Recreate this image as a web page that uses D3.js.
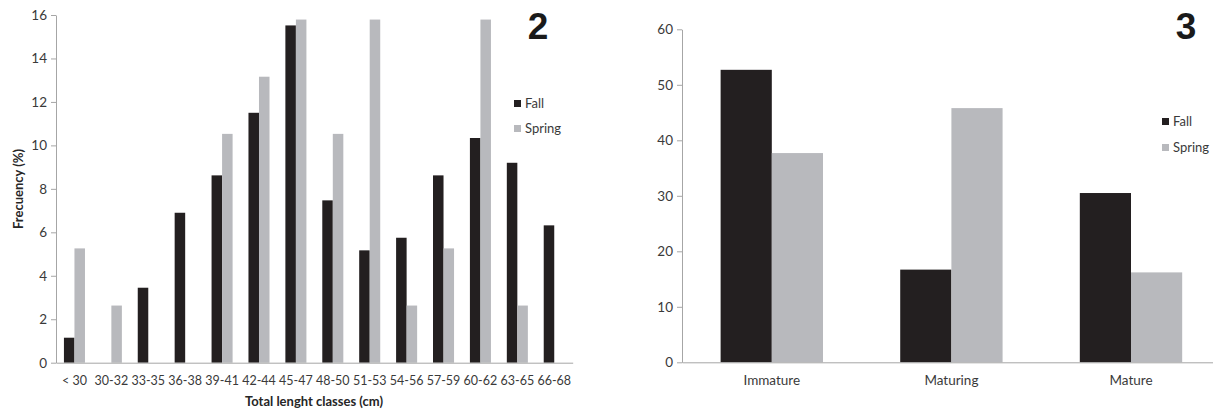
<!DOCTYPE html>
<html>
<head>
<meta charset="utf-8">
<script src="https://cdn.jsdelivr.net/npm/d3@7/dist/d3.min.js"></script>
<style>
  html, body { margin: 0; padding: 0; background: #fff; }
  svg { display: block; }
  text { font-family: Lato, "Open Sans", sans-serif; }
</style>
</head>
<body>
<svg id="chart" width="1213" height="412"></svg>
<script>
// ---- Data: Figure 2 (length classes) ----
const lengthClasses = ["< 30", "30-32", "33-35", "36-38", "39-41", "42-44", "45-47", "48-50", "51-53", "54-56", "57-59", "60-62", "63-65", "66-68"];
const lengthFall   = [1.15, 0, 3.45, 6.9, 8.62, 11.5, 15.52, 7.47, 5.17, 5.75, 8.62, 10.34, 9.2, 6.32];
const lengthSpring = [5.26, 2.63, 0, 0, 10.53, 13.16, 15.79, 10.53, 15.79, 2.63, 5.26, 15.79, 2.63, 0];
const lengthTicks  = [0, 2, 4, 6, 8, 10, 12, 14, 16];

// ---- Data: Figure 3 (maturity stages) ----
const stages       = ["Immature", "Maturing", "Mature"];
const stageFall    = [52.7, 16.7, 30.5];
const stageSpring  = [37.7, 45.8, 16.2];
const stageTicks   = [0, 10, 20, 30, 40, 50, 60];

const seriesNames = ["Fall", "Spring"];
const seriesColors = ["#231f20", "#b8b9bd"];

const svg = d3.select("#chart");

function drawPanel(cfg) {
  const g = svg.append("g");
  const x = d3.scaleBand().domain(cfg.categories).range([cfg.x0, cfg.x1]).paddingInner(0.43).paddingOuter(0.215);
  const xs = d3.scaleBand().domain(seriesNames).range([0, x.bandwidth()]);
  const y = d3.scaleLinear().domain([0, cfg.yMax]).range([cfg.y0, cfg.y1]);

  const series = [cfg.fall, cfg.spring];
  seriesNames.forEach((s, si) => {
    g.append("g").selectAll("rect")
      .data(cfg.categories.map((c, i) => ({ c, v: series[si][i] })))
      .join("rect")
      .attr("x", d => x(d.c) + xs(s))
      .attr("width", xs.bandwidth())
      .attr("y", d => y(d.v))
      .attr("height", d => y(0) - y(d.v))
      .attr("fill", seriesColors[si]);
  });

  // y axis
  const yAxis = g.append("g").attr("transform", `translate(${cfg.x0},0)`)
    .call(d3.axisLeft(y).tickValues(cfg.ticks).tickSize(5).tickPadding(4).tickSizeOuter(0));
  yAxis.select(".domain").attr("stroke", "#a6a6a6");
  yAxis.selectAll(".tick line").attr("stroke", "#a6a6a6");
  yAxis.selectAll(".tick text").attr("fill", "#3a3a3a").style("font-size", "13.5px").style("font-family", "Lato");

  // x axis
  const xAxis = g.append("g").attr("transform", `translate(0,${cfg.y0})`)
    .call(d3.axisBottom(x).tickSize(0).tickPadding(cfg.xPad).tickSizeOuter(0));
  xAxis.select(".domain").attr("stroke", "#a6a6a6");
  xAxis.selectAll(".tick text").attr("fill", "#3a3a3a").style("font-size", cfg.xFont).style("font-family", "Lato");

  // legend
  const lg = g.append("g");
  seriesNames.forEach((s, i) => {
    lg.append("rect").attr("x", cfg.legX).attr("y", cfg.legY + i * cfg.legGap).attr("width", 7).attr("height", 7).attr("fill", seriesColors[i]);
    lg.append("text").attr("x", cfg.legX + 11).attr("y", cfg.legY + i * cfg.legGap + 8)
      .attr("fill", "#3a3a3a").style("font-size", "13px").text(s);
  });

  // panel number
  g.append("text").attr("x", cfg.numX).attr("y", 39).attr("text-anchor", "middle")
    .style("font-family", "Liberation Sans, Arial, sans-serif").style("font-weight", "bold").style("font-size", "37px")
    .attr("fill", "#1a1a1a").text(cfg.num);

  return { x, y, g };
}

const p2 = drawPanel({
  categories: lengthClasses, fall: lengthFall, spring: lengthSpring, ticks: lengthTicks,
  yMax: 16, x0: 56, x1: 572.7, y0: 362.7, y1: 15,
  xPad: 13, xFont: "12.5px",
  legX: 514, legY: 100, legGap: 25, numX: 538, num: "2"
});
p2.g.append("text").attr("transform", "translate(23,189) rotate(-90)").attr("text-anchor", "middle")
  .style("font-weight", "bold").style("font-size", "13px").attr("fill", "#262626").text("Frecuency (%)");
p2.g.append("text").attr("x", 314).attr("y", 405.5).attr("text-anchor", "middle")
  .style("font-weight", "bold").style("font-size", "13px").attr("fill", "#262626").text("Total lenght classes (cm)");

drawPanel({
  categories: stages, fall: stageFall, spring: stageSpring, ticks: stageTicks,
  yMax: 60, x0: 682, x1: 1220.8, y0: 362.3, y1: 29.3,
  xPad: 13, xFont: "13.5px",
  legX: 1162, legY: 118, legGap: 26, numX: 1186, num: "3"
});
</script>
</body>
</html>
